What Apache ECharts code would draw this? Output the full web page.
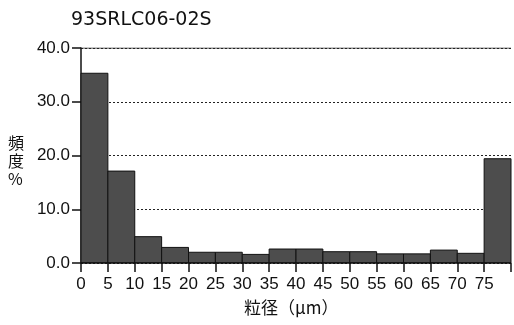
<!DOCTYPE html>
<html><head><meta charset="utf-8">
<script src="https://cdn.jsdelivr.net/npm/echarts@6/dist/echarts.min.js"></script>
<style>html,body{margin:0;padding:0;background:#fff}#c{width:514px;height:325px}</style>
</head><body><div id="c"></div>
<script>
var binStarts = [0,5,10,15,20,25,30,35,40,45,50,55,60,65,70,75];
var binWidth = 5;
var freq = [35.3,17.1,4.9,2.9,2.0,2.0,1.6,2.6,2.6,2.1,2.1,1.7,1.7,2.4,1.8,19.4];
var yTicks = [0,10,20,30,40];
var title = '93SRLC06-02S';
var yName = '頻\n度\n%';
var xName = '粒径（μm）';

var data = binStarts.map(function(s,i){return [s, s+binWidth, freq[i]];});
var chart = echarts.init(document.getElementById('c'));
chart.setOption({
  animation:false,
  title:{text:title,left:66,top:6,textStyle:{fontFamily:'DejaVu Sans',fontSize:19,fontWeight:'normal',color:'#111'}},
  grid:{left:81,top:48,width:436,bottom:62},
  graphic:[
    {type:'text',left:8,top:134,style:{text:yName,font:'16px "Noto Sans CJK JP"',fill:'#111',lineHeight:18}},
    {type:'text',left:244,top:299,style:{text:xName,font:'17px "Noto Sans CJK JP"',fill:'#111'}}
  ],
  xAxis:{type:'value',min:0,max:80,interval:5,
    axisLine:{show:false},
    axisTick:{show:true,length:9,lineStyle:{color:'#111',width:1.5}},
    axisLabel:{fontFamily:'Liberation Sans',fontSize:17,color:'#111',margin:13,
      formatter:function(v){return v>=80?'':String(v);}},
    splitLine:{show:false}},
  yAxis:{type:'value',min:0,max:40,interval:10,
    axisLine:{show:true,lineStyle:{color:'#111',width:1.5}},
    axisTick:{show:true,length:9,lineStyle:{color:'#111',width:1.5}},
    axisLabel:{fontFamily:'Liberation Sans',fontSize:17,color:'#111',margin:11,
      formatter:function(v){return v.toFixed(1);}},
    splitLine:{show:true,lineStyle:{color:'#222',type:[2,2],width:1}}},
  series:[{
    type:'custom',
    data:data,
    encode:{x:[0,1],y:2},
    renderItem:function(params,api){
      var p0 = api.coord([api.value(0), api.value(2)]);
      var p1 = api.coord([api.value(1), 0]);
      return {type:'rect',shape:{x:p0[0],y:p0[1],width:p1[0]-p0[0],height:p1[1]-p0[1]},
        style:{fill:'#4d4d4d',stroke:'#111',lineWidth:1}};
    },
    z:3
  },{
    type:'line',data:[[0,40],[80,40]],symbol:'none',silent:true,
    lineStyle:{color:'#222',width:1.2},z:2
  },{
    type:'line',data:[[0,0],[80,0]],symbol:'none',silent:true,
    lineStyle:{color:'#111',width:1.5},z:4
  }]
});
</script></body></html>
